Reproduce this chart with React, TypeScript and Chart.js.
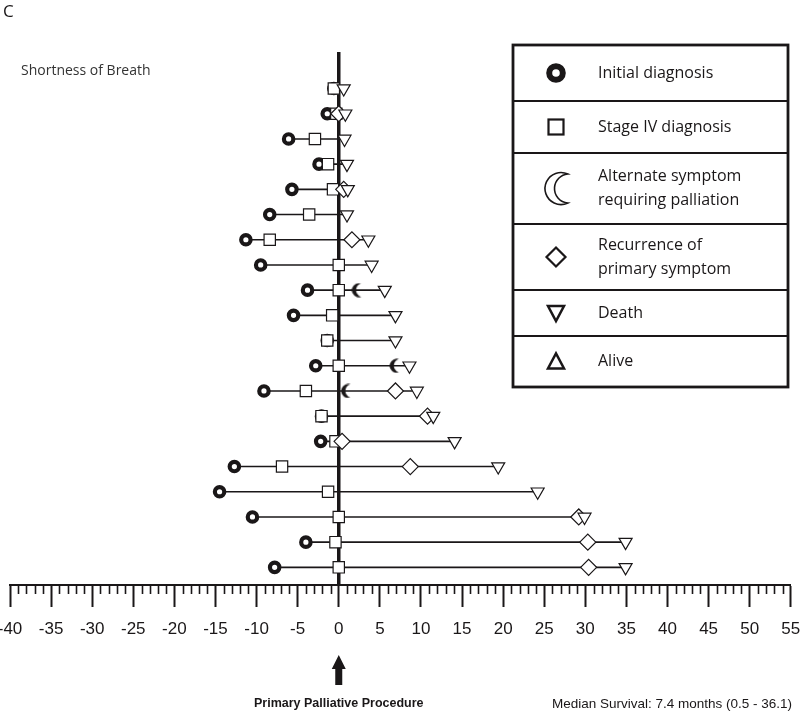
import React, { useEffect, useRef } from 'react';
import { Chart, registerables } from 'chart.js';

Chart.register(...registerables);

// ---- data (months relative to the primary palliative procedure) ----
const patientRows = [1, 2, 3, 4, 5, 6, 7, 8, 9, 10, 11, 12, 13, 14, 15, 16, 17, 18, 19, 20];
const initialDiagnosis = [-0.6, -1.4, -6.1, -2.4, -5.7, -8.4, -11.3, -9.5, -3.8, -5.5, -1.4, -2.8, -9.1, -2.1, -2.2, -12.7, -14.5, -10.5, -4.0, -7.8];
const stageIVDiagnosis = [-0.6, -0.3, -2.9, -1.3, -0.7, -3.6, -8.4, 0, 0, -0.8, -1.4, 0, -4.0, -2.1, -0.4, -6.9, -1.3, 0, -0.4, 0];
const alternateSymptom = [null, null, null, null, null, null, null, null, 2.2, null, null, 6.8, 0.9, null, null, null, null, null, null, null];
const recurrence = [null, 0, null, null, 0.6, null, 1.6, null, null, null, null, null, 6.9, 10.8, 0.4, 8.7, null, 29.2, 30.3, 30.4];
const death = [0.6, 0.8, 0.7, 1.0, 1.1, 1.0, 3.6, 4.0, 5.6, 6.9, 6.9, 8.6, 9.5, 11.5, 14.1, 19.4, 24.2, 29.9, 34.9, 34.9];

const xMin = -40;
const xMax = 55;
const xMajorStep = 5;
const xMinorStep = 1;

const legendLabels = [
  ['Initial diagnosis'],
  ['Stage IV diagnosis'],
  ['Alternate symptom', 'requiring palliation'],
  ['Recurrence of', 'primary symptom'],
  ['Death'],
  ['Alive'],
];
const panelLabel = 'C';
const subtitle = 'Shortness of Breath';
const procedureLabel = 'Primary Palliative Procedure';
const survivalNote = 'Median Survival: 7.4 months (0.5 - 36.1)';

const INK = '#1a1718';

function toPoints(values: (number | null)[]) {
  const out: { x: number; y: number }[] = [];
  values.forEach((v, i) => {
    if (v !== null && v !== undefined) out.push({ x: v, y: patientRows[i] });
  });
  return out;
}

function crescentPath(g: CanvasRenderingContext2D, cx: number, cy: number, R: number, d: number, r: number) {
  const xi = (d * d + R * R - r * r) / (2 * d);
  const yi = Math.sqrt(Math.max(R * R - xi * xi, 0));
  const th = Math.atan2(yi, xi);
  const ph = Math.atan2(yi, xi - d);
  g.beginPath();
  g.arc(cx, cy, R, -th, th, true);
  g.arc(cx + d, cy, r, ph, -ph, false);
  g.closePath();
}

function makeCrescent(h: number) {
  const c = document.createElement('canvas');
  const R = h / 2;
  c.width = Math.ceil(R * 1.45);
  c.height = h;
  const g = c.getContext('2d')!;
  g.fillStyle = INK;
  crescentPath(g, R, R, R - 0.5, R * 0.55, R * 0.92);
  g.fill();
  return c;
}

export default function App() {
  const ref = useRef<HTMLCanvasElement | null>(null);

  useEffect(() => {
    document.body.style.margin = '0';
    const canvas = ref.current;
    if (!canvas) return;
    const crescentImg = makeCrescent(15);

    const rowLines = patientRows.map((row, i) => {
      const vals = [initialDiagnosis[i], stageIVDiagnosis[i], alternateSymptom[i], recurrence[i], death[i]].filter(
        (v) => v !== null && v !== undefined
      ) as number[];
      return {
        type: 'line' as const,
        data: [
          { x: Math.min(...vals), y: row },
          { x: Math.max(...vals), y: row },
        ],
        borderColor: INK,
        borderWidth: 1.6,
        pointRadius: 0,
        order: 10,
      };
    });

    const datasets: any[] = [
      {
        label: 'Death',
        data: toPoints(death),
        pointStyle: 'triangle',
        rotation: 180,
        pointRadius: 7.5,
        backgroundColor: '#fff',
        borderColor: INK,
        borderWidth: 1.2,
        order: 1,
      },
      {
        label: 'Recurrence',
        data: toPoints(recurrence),
        pointStyle: 'rectRot',
        pointRadius: 8,
        backgroundColor: '#fff',
        borderColor: INK,
        borderWidth: 1.2,
        order: 2,
      },
      {
        label: 'Alternate symptom',
        data: toPoints(alternateSymptom),
        pointStyle: crescentImg,
        pointRadius: 7,
        order: 3,
      },
      {
        label: 'Stage IV diagnosis',
        data: toPoints(stageIVDiagnosis),
        pointStyle: 'rect',
        pointRadius: 8,
        backgroundColor: '#fff',
        borderColor: INK,
        borderWidth: 1.2,
        order: 4,
      },
      {
        label: 'Initial diagnosis',
        data: toPoints(initialDiagnosis),
        pointStyle: 'circle',
        pointRadius: 4.7,
        backgroundColor: '#fff',
        borderColor: INK,
        borderWidth: 4.2,
        order: 5,
      },
      {
        type: 'line',
        label: 'procedure',
        data: [
          { x: 0, y: -0.45 },
          { x: 0, y: 20.7 },
        ],
        borderColor: INK,
        borderWidth: 3.5,
        pointRadius: 0,
        order: 6,
      },
      ...rowLines,
    ];

    const decorations = {
      id: 'decorations',
      afterDraw(chart: any) {
        const g: CanvasRenderingContext2D = chart.ctx;
        const xs = chart.scales.x;
        const area = chart.chartArea;
        g.save();
        // minor ticks
        g.strokeStyle = INK;
        g.lineWidth = 1.6;
        for (let v = xMin; v <= xMax; v += xMinorStep) {
          if (v % xMajorStep === 0) continue;
          const px = Math.round(xs.getPixelForValue(v)) + 0.5;
          g.beginPath();
          g.moveTo(px, area.bottom);
          g.lineTo(px, area.bottom + 9);
          g.stroke();
        }
        // arrow at the procedure
        const p0 = xs.getPixelForValue(0);
        g.fillStyle = INK;
        g.beginPath();
        g.moveTo(p0, 655);
        g.lineTo(p0 + 7, 669);
        g.lineTo(p0 + 3.5, 669);
        g.lineTo(p0 + 3.5, 685);
        g.lineTo(p0 - 3.5, 685);
        g.lineTo(p0 - 3.5, 669);
        g.lineTo(p0 - 7, 669);
        g.closePath();
        g.fill();
        // bottom texts
        g.textBaseline = 'middle';
        g.textAlign = 'center';
        g.font = 'bold 12.5px "Liberation Sans", Arial, sans-serif';
        g.fillText(procedureLabel, p0, 704);
        g.textAlign = 'right';
        g.font = '13.5px "Liberation Sans", Arial, sans-serif';
        g.fillText(survivalNote, 792, 704);
        // titles
        g.textAlign = 'left';
        g.font = '17px "Open Sans", sans-serif';
        g.fillText(panelLabel, 3, 12);
        g.fillStyle = '#333';
        g.font = '14px "Open Sans", sans-serif';
        g.fillText(subtitle, 21, 71);

        // legend
        const L = 513, R = 788;
        const rows = [45, 101, 153, 224, 290, 336, 387];
        g.fillStyle = '#fff';
        g.fillRect(L, rows[0], R - L, rows[6] - rows[0]);
        g.strokeStyle = INK;
        g.lineWidth = 2.2;
        for (let i = 1; i < rows.length - 1; i++) {
          g.beginPath();
          g.moveTo(L, rows[i]);
          g.lineTo(R, rows[i]);
          g.stroke();
        }
        g.lineWidth = 2.8;
        g.strokeRect(L, rows[0], R - L, rows[6] - rows[0]);
        const sx = 556;
        const tx = 598;
        g.font = '16px "Open Sans", sans-serif';
        legendLabels.forEach((lines, i) => {
          const cy = (rows[i] + rows[i + 1]) / 2;
          g.fillStyle = INK;
          const lh = 24;
          lines.forEach((t, k) => {
            g.fillText(t, tx, cy + (k - (lines.length - 1) / 2) * lh);
          });
          g.strokeStyle = INK;
          g.fillStyle = '#fff';
          g.lineWidth = 2.2;
          if (i === 0) {
            g.lineWidth = 6;
            g.beginPath();
            g.arc(sx, cy, 6.8, 0, Math.PI * 2);
            g.stroke();
          } else if (i === 1) {
            g.strokeRect(sx - 7.5, cy - 7.5, 15, 15);
          } else if (i === 2) {
            g.lineWidth = 1.6;
            crescentPath(g, sx + 5, cy, 16, 8, 14.5);
            g.fill();
            g.stroke();
          } else if (i === 3) {
            g.beginPath();
            g.moveTo(sx, cy - 9.5);
            g.lineTo(sx + 9.5, cy);
            g.lineTo(sx, cy + 9.5);
            g.lineTo(sx - 9.5, cy);
            g.closePath();
            g.stroke();
          } else if (i === 4) {
            g.lineWidth = 2.5;
            g.beginPath();
            g.moveTo(sx - 8, cy - 7);
            g.lineTo(sx + 8, cy - 7);
            g.lineTo(sx, cy + 8);
            g.closePath();
            g.stroke();
          } else {
            g.lineWidth = 2.5;
            g.beginPath();
            g.moveTo(sx - 8, cy + 7);
            g.lineTo(sx + 8, cy + 7);
            g.lineTo(sx, cy - 8);
            g.closePath();
            g.stroke();
          }
        });
        g.restore();
      },
    };

    const chart = new Chart(canvas, {
      type: 'scatter',
      data: { datasets },
      options: {
        animation: false,
        responsive: true,
        maintainAspectRatio: false,
        events: [],
        layout: { padding: { left: 10, right: 8, top: 52, bottom: 0 } },
        plugins: { legend: { display: false }, tooltip: { enabled: false } },
        scales: {
          x: {
            type: 'linear',
            min: xMin,
            max: xMax,
            position: 'bottom',
            ticks: {
              stepSize: xMajorStep,
              autoSkip: false,
              maxRotation: 0,
              color: INK,
              padding: 12,
              font: { family: '"Liberation Sans", Arial, sans-serif', size: 17 },
              callback: (v: any) => String(v),
            },
            grid: {
              drawOnChartArea: false,
              drawTicks: true,
              tickLength: 22,
              tickWidth: 2,
              tickColor: INK,
            },
            border: { display: true, color: INK, width: 2 },
            afterFit: (s: any) => {
              s.height = 127;
              s.paddingLeft = 0;
              s.paddingRight = 0;
            },
          },
          y: { type: 'linear', display: false, reverse: true, min: -0.45, max: 20.7 },
        },
      },
      plugins: [decorations],
    } as any);
    return () => chart.destroy();
  }, []);

  return (
    <div style={{ width: 800, height: 712, position: 'relative', background: '#fff' }}>
      <canvas ref={ref} />
    </div>
  );
}
